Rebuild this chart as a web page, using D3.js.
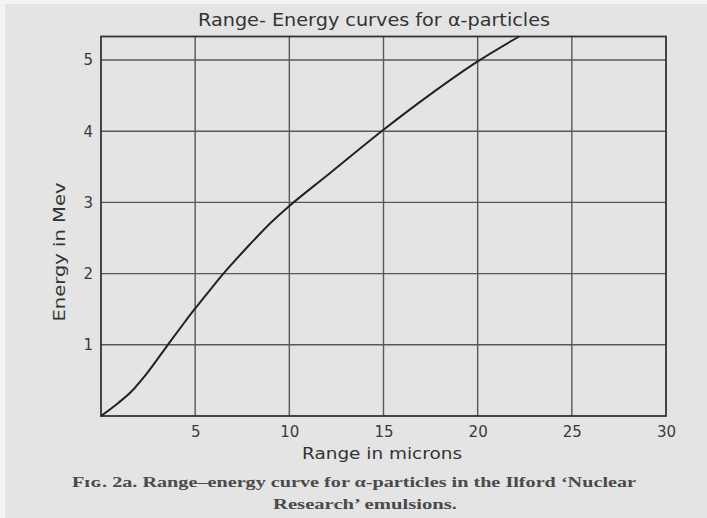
<!DOCTYPE html>
<html>
<head>
<meta charset="utf-8">
<script src="https://cdn.jsdelivr.net/npm/d3@7"></script>
<style>
  body { margin: 0; background: #f4f4f4; }
  svg { display: block; }
</style>
</head>
<body>
<div id="chart"></div>
<script>
// Range (microns) and energy (Mev)
const rangeMicrons = [0, 0.9, 1.6, 2.5, 3.55, 4.45, 5, 5.85, 6.5, 7.8, 9, 10, 12.15, 15, 17.45, 20, 22.2];
const energyMev = [0, 0.18, 0.34, 0.62, 1.0, 1.32, 1.51, 1.79, 2.0, 2.38, 2.71, 2.95, 3.41, 4.02, 4.51, 4.98, 5.33];
const xTicks = [5, 10, 15, 20, 25, 30];
const yTicks = [1, 2, 3, 4, 5];

const data = rangeMicrons.map((r, i) => ({ r: r, e: energyMev[i] }));

const W = 707, H = 518;
const margin = { top: 36.5, right: 41, bottom: 102, left: 101 };
const width = W - margin.left - margin.right;
const height = H - margin.top - margin.bottom;

const svg = d3.select("#chart")
  .append("svg")
  .attr("width", W)
  .attr("height", H);

// scanned page background
svg.append("rect")
  .attr("x", 5).attr("y", 4)
  .attr("width", W - 5).attr("height", H - 4)
  .attr("fill", "#e4e4e4");

const g = svg.append("g")
  .attr("transform", `translate(${margin.left},${margin.top})`);

const x = d3.scaleLinear().domain([0, 30]).range([0, width]);
const y = d3.scaleLinear().domain([0, 5.33]).range([height, 0]);

// Grid lines
g.append("g")
  .selectAll("line")
  .data(xTicks.slice(0, -1))
  .enter()
  .append("line")
  .attr("x1", (d) => x(d)).attr("x2", (d) => x(d))
  .attr("y1", 0).attr("y2", height)
  .attr("stroke", "#585858")
  .attr("stroke-width", 1.4);

g.append("g")
  .selectAll("line")
  .data(yTicks)
  .enter()
  .append("line")
  .attr("x1", 0).attr("x2", width)
  .attr("y1", (d) => y(d)).attr("y2", (d) => y(d))
  .attr("stroke", "#585858")
  .attr("stroke-width", 1.4);

// Frame
g.append("rect")
  .attr("width", width)
  .attr("height", height)
  .attr("fill", "none")
  .attr("stroke", "#333")
  .attr("stroke-width", 1.8);

// X axis labels
const xAxis = g.append("g")
  .attr("transform", `translate(0,${height})`)
  .call(d3.axisBottom(x).tickValues(xTicks).tickFormat(d3.format("d")).tickSize(0).tickPadding(9));
xAxis.select(".domain").remove();
xAxis.selectAll("text")
  .attr("dy", "0.8em")
  .style("font-family", "DejaVu Sans, sans-serif")
  .style("font-size", "15px")
  .attr("fill", "#3a3a3a");

// Y axis labels
const yAxis = g.append("g")
  .call(d3.axisLeft(y).tickValues(yTicks).tickFormat(d3.format("d")).tickSize(0).tickPadding(8));
yAxis.select(".domain").remove();
yAxis.selectAll("text")
  .style("font-family", "DejaVu Sans, sans-serif")
  .style("font-size", "15px")
  .attr("fill", "#3a3a3a");

// Curve
g.append("path")
  .datum(data)
  .attr("fill", "none")
  .attr("stroke", "#222")
  .attr("stroke-width", 2)
  .attr("d", d3.line()
    .x((d) => x(d.r))
    .y((d) => y(d.e))
    .curve(d3.curveCatmullRom.alpha(0.5)));

// Title
svg.append("text")
  .attr("x", 374)
  .attr("y", 26)
  .attr("text-anchor", "middle")
  .attr("textLength", 352)
  .attr("lengthAdjust", "spacingAndGlyphs")
  .style("font-family", "DejaVu Sans, sans-serif")
  .style("font-size", "17px")
  .attr("fill", "#333")
  .text("Range- Energy curves for α-particles");

// Axis titles
svg.append("text")
  .attr("x", 382)
  .attr("y", 459)
  .attr("text-anchor", "middle")
  .attr("textLength", 160)
  .attr("lengthAdjust", "spacingAndGlyphs")
  .style("font-family", "DejaVu Sans, sans-serif")
  .style("font-size", "16px")
  .attr("fill", "#333")
  .text("Range in microns");

svg.append("text")
  .attr("transform", "translate(65,252) rotate(-90)")
  .attr("text-anchor", "middle")
  .attr("textLength", 139)
  .attr("lengthAdjust", "spacingAndGlyphs")
  .style("font-family", "DejaVu Sans, sans-serif")
  .style("font-size", "16px")
  .attr("fill", "#333")
  .text("Energy in Mev");

// Caption
const caption = svg.append("text")
  .style("font-family", "Liberation Serif, serif")
  .style("font-size", "15px")
  .style("font-weight", "bold")
  .attr("fill", "#4a4a4a");
caption.append("tspan")
  .attr("x", 354).attr("y", 487)
  .attr("text-anchor", "middle")
  .attr("textLength", 564)
  .attr("lengthAdjust", "spacingAndGlyphs")
  .text("Fɪɢ. 2a.  Range–energy curve for α-particles in the Ilford ‘Nuclear");
caption.append("tspan")
  .attr("x", 365).attr("y", 509)
  .attr("text-anchor", "middle")
  .attr("textLength", 184)
  .attr("lengthAdjust", "spacingAndGlyphs")
  .text("Research’ emulsions.");
</script>
</body>
</html>
